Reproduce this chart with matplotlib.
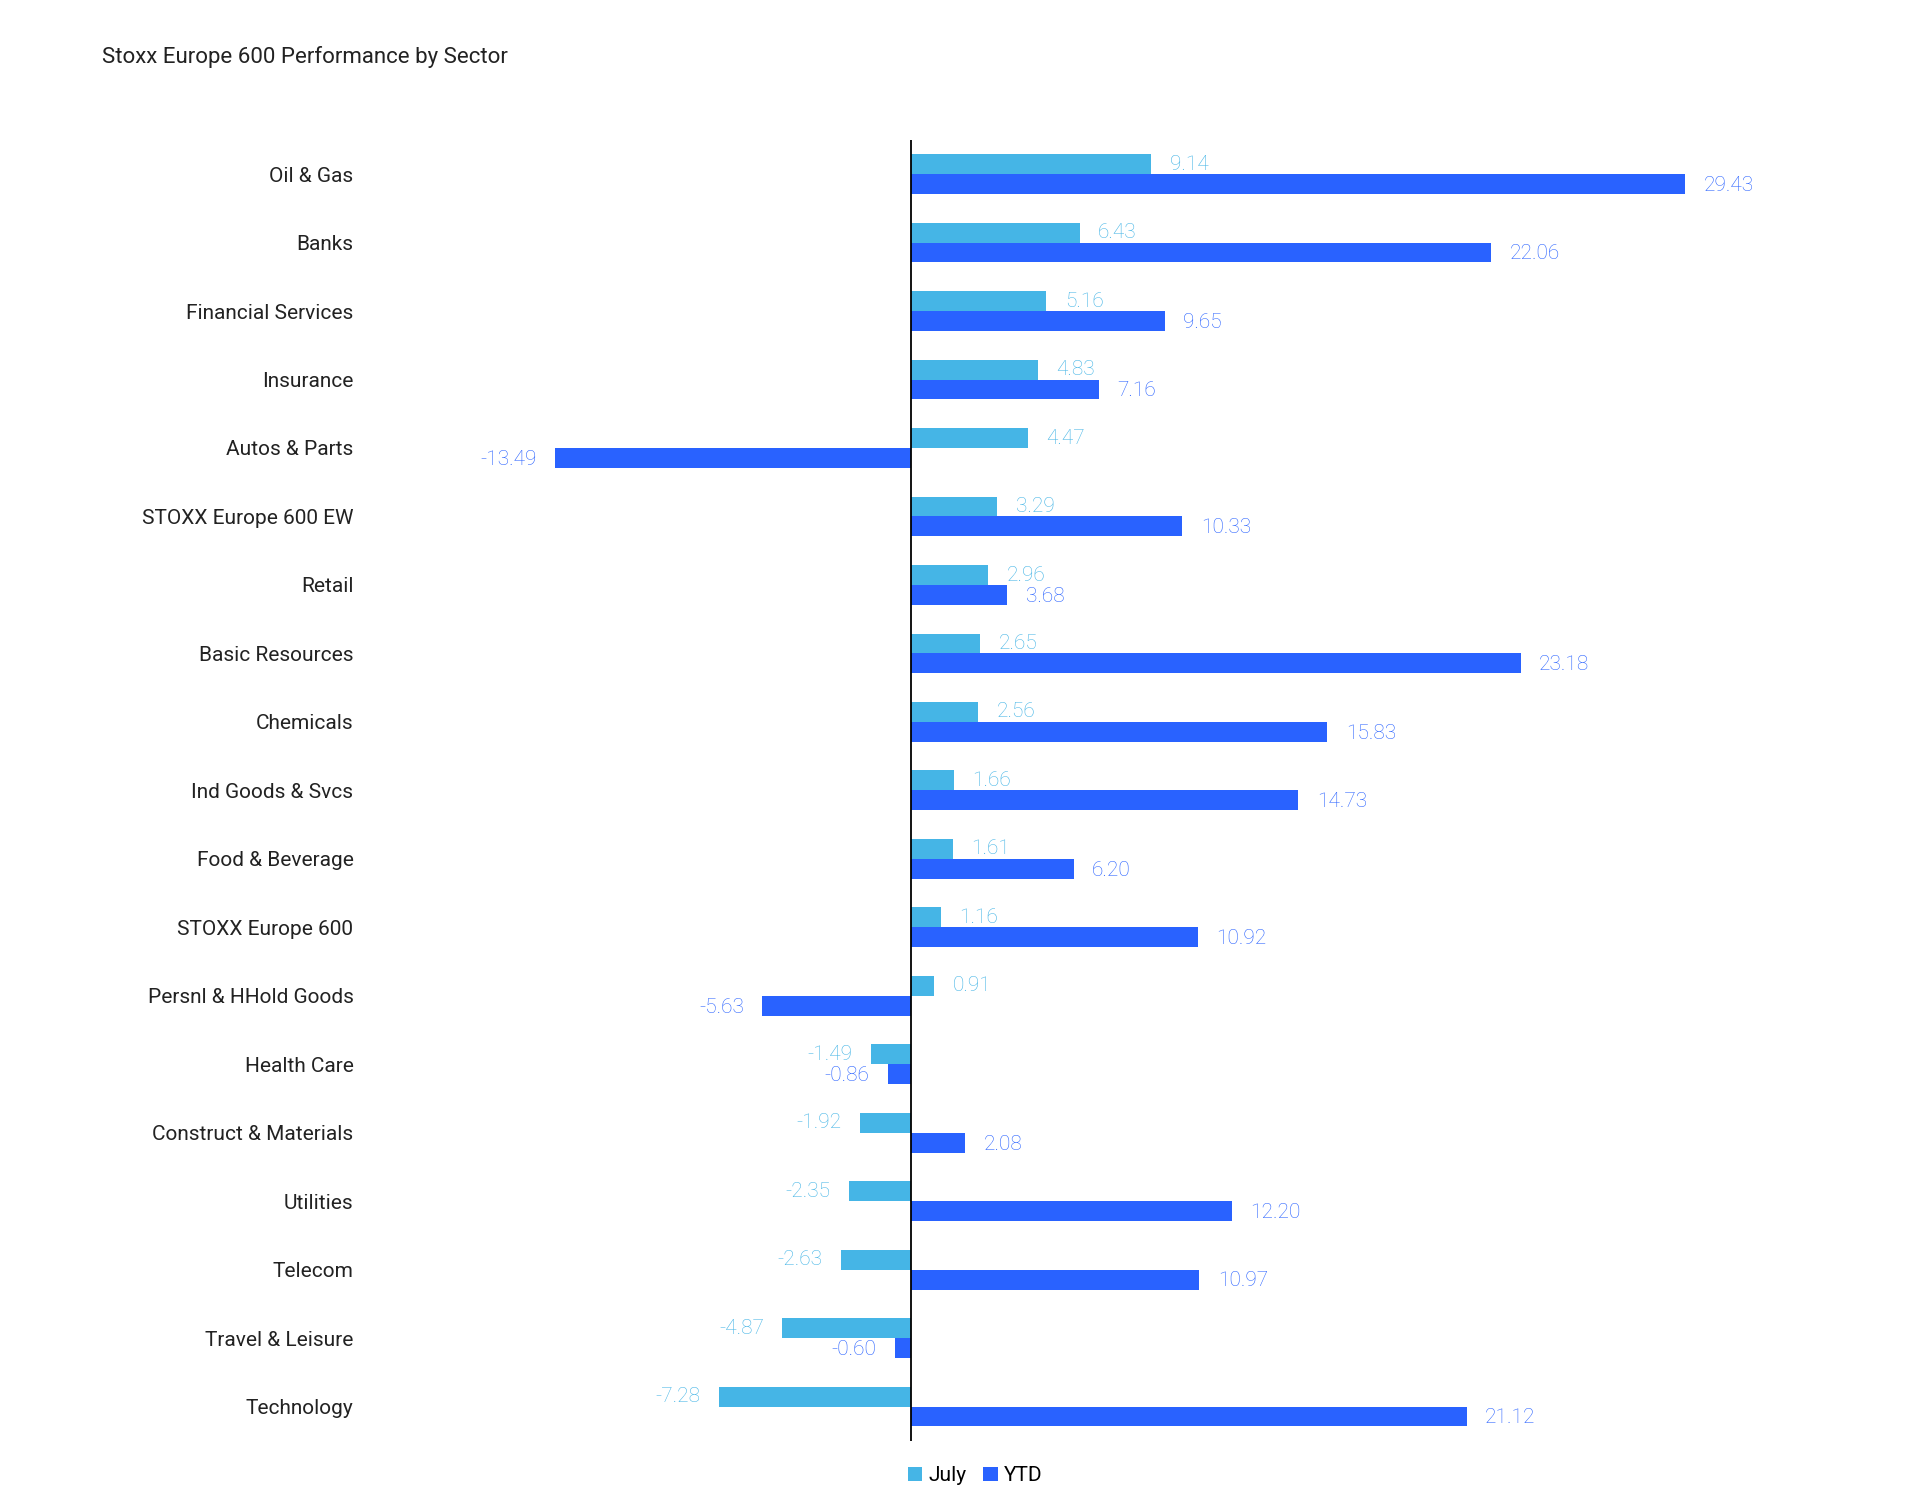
import matplotlib.pyplot as plt
import numpy as np

plt.rcParams['font.family'] = ['Roboto', 'DejaVu Sans']

sectors = ["Oil & Gas", "Banks", "Financial Services", "Insurance", "Autos & Parts",
           "STOXX Europe 600 EW", "Retail", "Basic Resources", "Chemicals",
           "Ind Goods & Svcs", "Food & Beverage", "STOXX Europe 600",
           "Persnl & HHold Goods", "Health Care", "Construct & Materials",
           "Utilities", "Telecom", "Travel & Leisure", "Technology"]
july = [9.14, 6.43, 5.16, 4.83, 4.47, 3.29, 2.96, 2.65, 2.56, 1.66, 1.61, 1.16,
        0.91, -1.49, -1.92, -2.35, -2.63, -4.87, -7.28]
ytd = [29.43, 22.06, 9.65, 7.16, -13.49, 10.33, 3.68, 23.18, 15.83, 14.73, 6.20,
       10.92, -5.63, -0.86, 2.08, 12.20, 10.97, -0.60, 21.12]

c_july = '#45b5e6'
c_ytd = '#2962ff'

fig = plt.figure(figsize=(19.2, 15.04), dpi=100)
ax = fig.add_axes([0.2, 0.042, 0.75, 0.865])

y = np.arange(len(sectors))
h = 0.29
ax.barh(y - h / 2, july, height=h, color=c_july, label='July')
ax.barh(y + h / 2, ytd, height=h, color=c_ytd, label='YTD')

for yi, v in zip(y, july):
    ax.text(v + (0.7 if v >= 0 else -0.7), yi - h / 2, f"{v:.2f}", color=c_july,
            ha='left' if v >= 0 else 'right', va='center', fontsize=15, fontweight='light')
for yi, v in zip(y, ytd):
    ax.text(v + (0.7 if v >= 0 else -0.7), yi + h / 2 + 0.02, f"{v:.2f}", color=c_ytd,
            ha='left' if v >= 0 else 'right', va='center', fontsize=15, fontweight='light')

ax.axvline(0, color='black', lw=1.3)
ax.set_xlim(-20.0, 34.7)
ax.set_ylim(len(sectors) - 0.5, -0.5)
ax.set_yticks(y)
ax.set_yticklabels(sectors, fontsize=15, color='#222222')
ax.tick_params(axis='y', length=0, pad=22)
ax.set_xticks([])
for s in ax.spines.values():
    s.set_visible(False)

fig.text(0.053, 0.958, "Stoxx Europe 600 Performance by Sector", fontsize=16, color='#222222')
fig.legend(loc='lower center', bbox_to_anchor=(0.508, 0.0), ncol=2, frameon=False,
           fontsize=15, handlelength=0.7, handleheight=0.7, handletextpad=0.3,
           columnspacing=0.8)

fig.savefig('out.png', dpi=100, facecolor='white')
